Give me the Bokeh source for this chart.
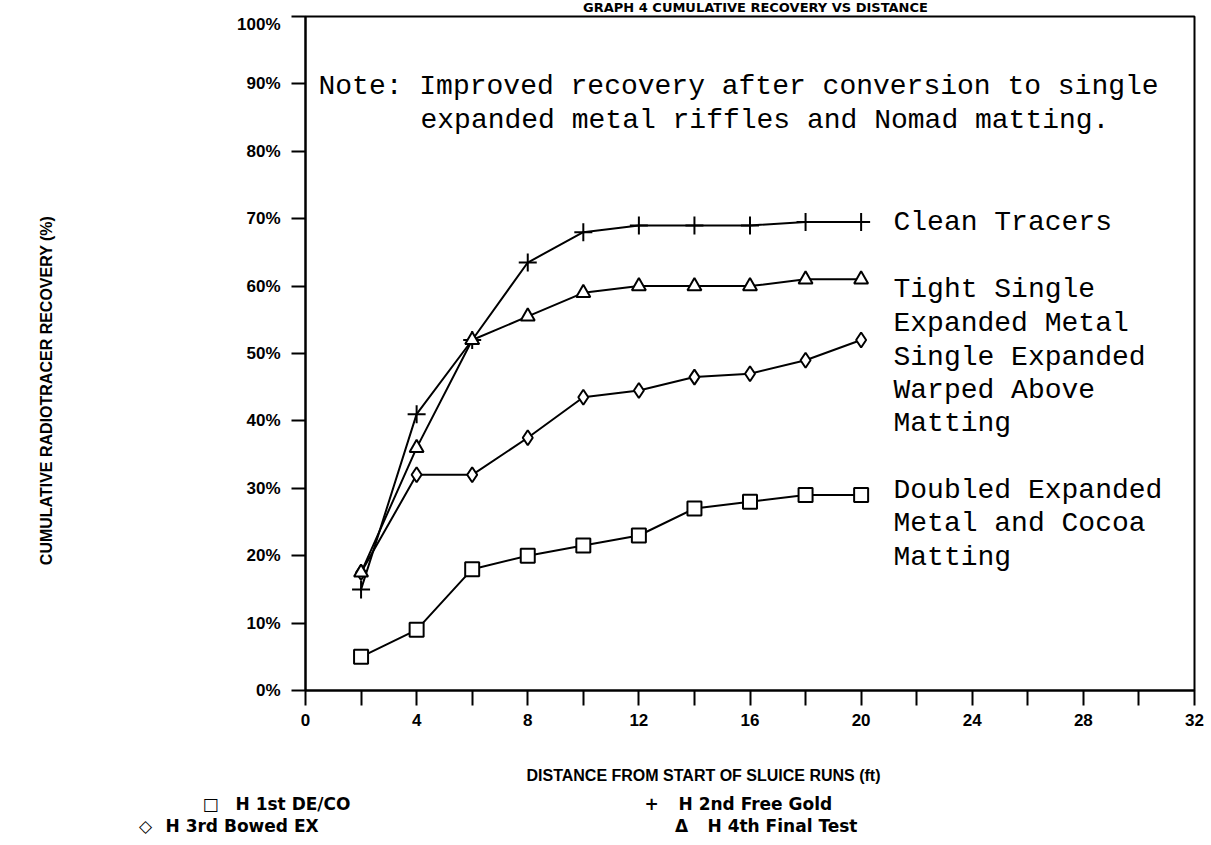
from bokeh.plotting import figure
from bokeh.layouts import column
from bokeh.models import (Label, FixedTicker, Range1d, CustomJSTickFormatter,
                          LinearAxis)
from bokeh.embed import file_html
from bokeh.resources import INLINE

# ---- data ----
distance = [2, 4, 6, 8, 10, 12, 14, 16, 18, 20]
de_co = [5, 9, 18, 20, 21.5, 23, 27, 28, 29, 29]               # H 1st DE/CO (squares)
free_gold = [15, 41, 52, 63.5, 68, 69, 69, 69, 69.5, 69.5]     # H 2nd Free Gold (plus)
bowed_ex = [17.5, 32, 32, 37.5, 43.5, 44.5, 46.5, 47, 49, 52]  # H 3rd Bowed EX (diamonds)
final_test = [17.5, 36, 52, 55.5, 59, 60, 60, 60, 61, 61]      # H 4th Final Test (triangles)

x_ticks = [0, 4, 8, 12, 16, 20, 24, 28, 32]
x_minor = [2, 6, 10, 14, 18, 22, 26, 30]
y_ticks = [0, 10, 20, 30, 40, 50, 60, 70, 80, 90, 100]

title_text = "GRAPH 4 CUMULATIVE RECOVERY VS DISTANCE"
x_title = "DISTANCE FROM START OF SLUICE RUNS (ft)"
y_title = "CUMULATIVE RADIOTRACER RECOVERY (%)"

legend_marks = ["\u25a1", "+", "\u25c7", "\u0394"]
legend_names = ["H 1st DE/CO", "H 2nd Free Gold", "H 3rd Bowed EX", "H 4th Final Test"]

note_line1 = "Note: Improved recovery after conversion to single"
note_line2 = "expanded metal riffles and Nomad matting."
curve_labels = [
    ("Clean Tracers", 222), ("Tight Single", 289), ("Expanded Metal", 323),
    ("Single Expanded", 357), ("Warped Above", 390), ("Matting", 423),
    ("Doubled Expanded", 490), ("Metal and Cocoa", 523), ("Matting", 557),
]

W = 1211
TOP_H = 14          # strip holding the title
MAIN_H = 731        # main chart
BOT_H = 845 - TOP_H - MAIN_H
FL, FR, FT, FB = 305, 1194, 16, 690   # frame in page pixels

SANS = "Liberation Sans"
WIDE = "DejaVu Sans"
MONO = "Liberation Mono"


def px2x(px):
    return (px - FL) / (FR - FL) * 32


def px2y(py):
    return (FB - py) / (FB - FT) * 100


def strip(height, y0):
    f = figure(width=W, height=height, output_backend="svg", toolbar_location=None,
               x_range=Range1d(0, W), y_range=Range1d(y0 + height, y0),
               min_border=0, min_border_left=0, min_border_right=0,
               min_border_top=0, min_border_bottom=0, frame_align=False)
    f.axis.visible = False
    f.grid.visible = False
    f.outline_line_color = None
    f.background_fill_color = "white"
    f.border_fill_color = "white"
    return f


# ---- title strip ----
top = strip(TOP_H, 0)
top.add_layout(Label(x=755, y=TOP_H, text=title_text, text_font=WIDE,
                     text_font_size="13px", text_font_style="bold",
                     text_align="center", text_baseline="bottom", text_color="black"))

# ---- main chart ----
p = figure(width=W, height=MAIN_H, output_backend="svg", toolbar_location=None,
           x_range=Range1d(0, 32), y_range=Range1d(0, 100),
           min_border_left=FL, min_border_right=W - FR,
           min_border_top=FT - TOP_H, min_border_bottom=TOP_H + MAIN_H - FB,
           frame_align=False)
p.background_fill_color = "white"
p.border_fill_color = "white"
p.grid.visible = False
p.outline_line_color = "black"
p.outline_line_width = 2

xa = p.xaxis[0]
xa.ticker = FixedTicker(ticks=x_ticks, minor_ticks=x_minor)
xa.axis_line_width = 2
xa.major_tick_out = 15
xa.major_tick_in = 0
xa.minor_tick_out = 15
xa.minor_tick_in = 0
xa.major_tick_line_width = 2
xa.minor_tick_line_width = 2
xa.major_tick_line_color = "black"
xa.minor_tick_line_color = "black"
xa.major_label_text_font = SANS
xa.major_label_text_font_style = "bold"
xa.major_label_text_font_size = "17px"
xa.major_label_text_color = "black"
xa.major_label_standoff = 8

ya = p.yaxis[0]
ya.ticker = FixedTicker(ticks=y_ticks)
ya.formatter = CustomJSTickFormatter(code="return tick.toFixed(0) + '%';")
ya.axis_line_width = 2
ya.major_tick_out = 14
ya.major_tick_in = 0
ya.minor_tick_out = 0
ya.minor_tick_in = 0
ya.major_tick_line_width = 2
ya.major_tick_line_color = "black"
ya.major_label_text_font = SANS
ya.major_label_text_font_style = "bold"
ya.major_label_text_font_size = "17px"
ya.major_label_text_color = "black"
ya.major_label_standoff = 11

# y-axis title as a second left axis carrying one rotated label
yt = LinearAxis(ticker=FixedTicker(ticks=[px2y(390)]),
                formatter=CustomJSTickFormatter(code="return '%s';" % y_title))
yt.axis_line_color = None
yt.major_tick_line_color = None
yt.minor_tick_line_color = None
yt.major_tick_out = 0
yt.major_tick_in = 0
yt.major_label_orientation = "vertical"
yt.major_label_text_font = SANS
yt.major_label_text_font_style = "bold"
yt.major_label_text_font_size = "16px"
yt.major_label_text_color = "black"
yt.major_label_standoff = 180
p.add_layout(yt, "left")

series = [
    (de_co, "square", 14),
    (free_gold, "cross", 18),
    (bowed_ex, "diamond", 15),
    (final_test, "triangle", 14),
]
for ys, mk, sz in series:
    p.line(distance, ys, line_color="black", line_width=2)
for ys, mk, sz in series:
    p.scatter(distance, ys, marker=mk, size=sz, fill_color="white",
              line_color="black", line_width=2)


def add_label(fig, x, y, text, font=MONO, size="28px", style="normal", align="left",
              baseline="middle"):
    fig.add_layout(Label(x=x, y=y, text=text, text_font=font, text_font_size=size,
                         text_font_style=style, text_align=align, text_baseline=baseline,
                         text_color="black"))


add_label(p, px2x(318), px2y(86), note_line1)
add_label(p, px2x(420), px2y(120), note_line2)
for txt, py in curve_labels:
    add_label(p, px2x(893), px2y(py), txt)

# ---- bottom strip: x-axis title and legend ----
bot = strip(BOT_H, TOP_H + MAIN_H)
add_label(bot, 703, 775, x_title, font=SANS, size="16px", style="bold", align="center")

legend_pos = [(210, 235, 803), (651, 678, 803), (145, 165, 825), (681, 707, 825)]
for mark, name, (mx, tx, ty) in zip(legend_marks, legend_names, legend_pos):
    add_label(bot, mx, ty, mark, font=WIDE, size="17px", style="bold", align="center")
    add_label(bot, tx, ty, name, font=WIDE, size="17px", style="bold")

layout = column(top, p, bot, spacing=0)
open("out.html", "w").write(file_html(layout, INLINE))
